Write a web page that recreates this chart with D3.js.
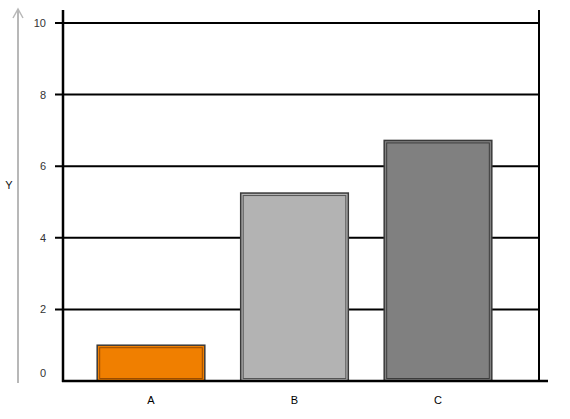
<!DOCTYPE html>
<html><head><meta charset="utf-8">
<script src="https://cdn.jsdelivr.net/npm/d3@7"></script>
<style>body{margin:0;background:#fff}svg{display:block;font-family:"Liberation Sans",Arial,sans-serif}</style>
</head><body>
<script>
const categories = ["A","B","C"];
const values = [1.0, 5.25, 6.72];
const colors = ["#F07F00","#B3B3B3","#808080"];
const innerColors = ["#9a4c00","#555555","#3c3c3c"];
const yTicks = [0,2,4,6,8,10];

const W=570,H=419;
const svg=d3.select("body").append("svg").attr("width",W).attr("height",H);
const y=d3.scaleLinear().domain([0,10]).range([381,23]);
const x=d3.scaleBand().domain(categories).range([79.25,509.75]).paddingInner(0.25).paddingOuter(0.125);

// gray arrow
svg.append("line").attr("x1",18).attr("x2",18).attr("y1",383).attr("y2",9).attr("stroke","#b8b8b8").attr("stroke-width",2);
svg.append("path").attr("d","M13,18 L18,9 L23,18").attr("fill","none").attr("stroke","#b8b8b8").attr("stroke-width",1.5);
svg.append("text").attr("x",9).attr("y",189).attr("text-anchor","middle").attr("font-size",11).attr("fill","#111").text("Y");

// gridlines
svg.append("g").selectAll("line").data(yTicks.filter(d=>d>0)).join("line")
 .attr("x1",55).attr("x2",539).attr("y1",d=>y(d)).attr("y2",d=>y(d)).attr("stroke","#000").attr("stroke-width",2);
// tick labels
svg.append("g").selectAll("text").data(yTicks).join("text")
 .attr("x",46).attr("y",d=>(d===0?y(d)-8:y(d))+4).attr("text-anchor","end").attr("font-size",11).attr("fill","#333").text(d=>d);
// axes
svg.append("line").attr("x1",63).attr("x2",63).attr("y1",10).attr("y2",382).attr("stroke","#000").attr("stroke-width",2.5);
svg.append("line").attr("x1",539).attr("x2",539).attr("y1",10).attr("y2",382).attr("stroke","#000").attr("stroke-width",2);

// bars
const g=svg.append("g");
categories.forEach((c,i)=>{
  const x0=x(c), w=x.bandwidth(), y0=y(values[i]), h=y(0)-y0;
  g.append("rect").attr("x",x0).attr("y",y0).attr("width",w).attr("height",h)
   .attr("fill",colors[i]).attr("stroke","#3a3a3a").attr("stroke-width",1.5);
  g.append("rect").attr("x",x0+2.5).attr("y",y0+2.5).attr("width",w-5).attr("height",h-5)
   .attr("fill","none").attr("stroke",innerColors[i]).attr("stroke-width",1);
});
svg.append("line").attr("x1",62).attr("x2",548).attr("y1",y(0)).attr("y2",y(0)).attr("stroke","#000").attr("stroke-width",2.5);

// category labels
svg.append("g").selectAll("text").data(categories).join("text")
 .attr("x",d=>x(d)+x.bandwidth()/2).attr("y",404).attr("text-anchor","middle").attr("font-size",11).attr("fill","#000").text(d=>d);
</script>
</body></html>
